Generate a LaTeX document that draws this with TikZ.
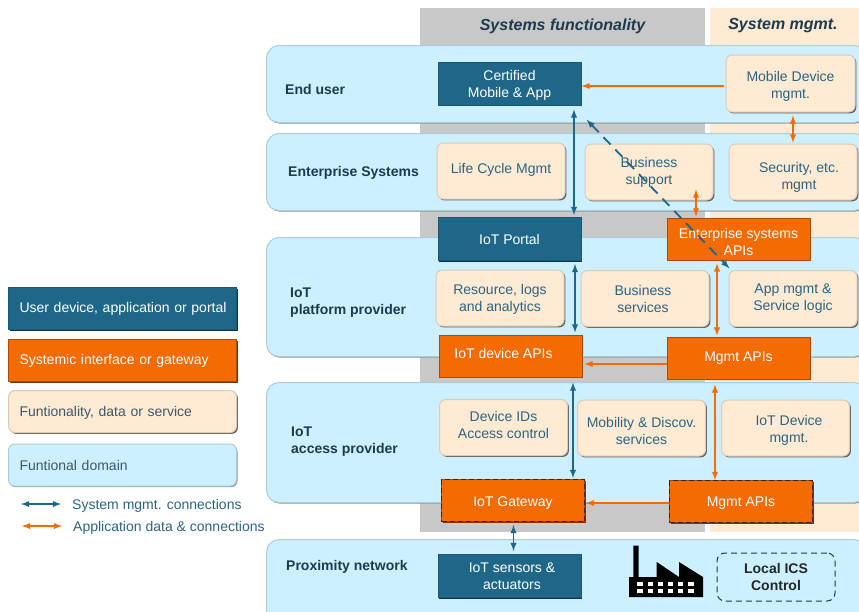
\documentclass[tikz,border=0pt]{standalone}
\usepackage{fontspec}
\setmainfont{Liberation Sans}
\usetikzlibrary{shadows}
\definecolor{domainblue}{HTML}{CCF0FF}
\definecolor{peach}{HTML}{FFEAD4}
\definecolor{darkblue}{HTML}{1F6788}
\definecolor{sysorange}{HTML}{F46A03}
\definecolor{bandgray}{HTML}{C8C8C8}
\definecolor{inktext}{HTML}{2B6480}
\definecolor{headtext}{HTML}{1D3A4E}
\newcommand{\nudgedown}[1]{\rule{0pt}{\dimexpr10pt+#1pt+#1pt\relax}}
\newcommand{\nudgeup}[1]{\rule[-\dimexpr3pt+#1pt+#1pt\relax]{0pt}{0pt}}
\begin{document}
\begin{tikzpicture}[x=1pt,y=-1pt,>=latex,
      font=\fontsize{14}{17}\selectfont,
      domainbox/.style={rectangle,draw=black!15!domainblue,line width=1pt,fill=domainblue,
        rounded corners=2.4ex,inner sep=0pt,anchor=north west,minimum width=600pt,
        general shadow={fill=black!35!domainblue!80!gray,shadow xshift=1pt,shadow yshift=-1.2pt}},
      domlabel/.style={font=\fontsize{14}{17}\selectfont\bfseries,text=headtext,
        align=left,anchor=west,inner sep=0pt},
      headlabel/.style={font=\fontsize{16}{18}\selectfont\bfseries\itshape,text=headtext,inner sep=0pt},
      userbox/.style={rectangle,draw=darkblue!85!black,line width=1pt,fill=darkblue,text=white,
        align=center,inner sep=0pt,minimum width=143pt,minimum height=43pt,
        general shadow={fill=darkblue!50!black,shadow xshift=1.2pt,shadow yshift=-1.2pt}},
      apibox/.style={rectangle,draw=sysorange!70!black,line width=1pt,fill=sysorange,text=white,
        align=center,inner sep=0pt,minimum width=143pt,minimum height=42pt,
        general shadow={fill=sysorange!50!black,shadow xshift=1.2pt,shadow yshift=-1.2pt}},
      funcbox/.style={rectangle,draw=peach!70!gray,line width=1pt,fill=peach,text=inktext,
        rounded corners=1.2ex,align=center,inner sep=0pt,minimum width=128pt,minimum height=56pt,
        general shadow={fill=peach!40!black,shadow xshift=1.4pt,shadow yshift=-1.4pt,rounded corners=1.2ex}},
      keybox/.style={anchor=west,align=left,inner ysep=0pt,inner xsep=9pt,text width=210pt,
        minimum height=42pt,execute at begin node={\hspace*{2pt}}},
      dashbox/.style={postaction={draw=black!70!sysorange,dash pattern=on 5pt off 3pt,line width=1.3pt}},
      sysline/.style={<->,draw=darkblue,line width=1.8pt,shorten <=1pt,shorten >=1pt},
      dataline/.style={<->,draw=sysorange,line width=1.8pt,shorten <=1pt,shorten >=1pt},
      keytext/.style={anchor=west,text=inktext,inner sep=0pt}]
      \useasboundingbox (0,0) rectangle (859,611);
      \clip (0,0) rectangle (859,611);
      % Columns behind the domains
      \fill[bandgray] (420,8) rectangle (705,532);
      \fill[peach] (710,8) rectangle (859,532);
      \node[headlabel] (sysfunc) at (562.5,26) {Systems functionality};
      \node[headlabel] (sysmgmt) at (783,26) {System mgmt.};
      % Domains
      \node[domainbox,minimum height=77pt] (enduser) at (266,45) {};
      \node[domainbox,minimum height=77pt] (enterprise) at (266,133) {};
      \node[domainbox,minimum height=119pt] (platform) at (266,237) {};
      \node[domainbox,minimum height=120pt] (access) at (266,382) {};
      \node[domainbox,minimum height=90pt] (proximity) at (266,539) {};
      \node[domlabel] (enduserlabel) at (285,89) {End user};
      \node[domlabel] (enterpriselabel) at (288,173) {Enterprise Systems};
      \node[domlabel] (platformlabel) at (290,302.5) {IoT\\platform provider};
      \node[domlabel] (accesslabel) at (291,441.5) {IoT\\access provider};
      \node[domlabel] (proximitylabel) at (286,567) {Proximity network};
      % End user and enterprise boxes
      \node[userbox] (certified) at (509.5,83.5) {\nudgedown{2}Certified\\Mobile \& App};
      \node[funcbox,minimum width=129pt,minimum height=57pt] (mobiledev) at (790.5,83.5) {\nudgedown{3}Mobile Device\\mgmt.};
      \node[funcbox] (lifecycle) at (501,171) {\nudgeup{1}Life Cycle Mgmt};
      \node[funcbox] (bizsupport) at (649,172) {Business\\support};
      \node[funcbox] (security) at (793,172) {\nudgedown{5}\hspace*{12pt}Security, etc.\\\hspace*{12pt}mgmt};
      % Platform boxes
      \node[userbox] (portal) at (509.5,239) {IoT Portal};
      \node[apibox] (entapis) at (738.5,239) {\nudgedown{3}Enterprise systems\\APIs};
      \node[funcbox] (resource) at (500,298) {\nudgedown{1}Resource, logs\\and analytics};
      \node[funcbox] (bizservices) at (645,298.5) {Business\hspace*{4pt}\\services\hspace*{4pt}};
      \node[funcbox] (appmgmt) at (793,298.5) {App mgmt \&\\Service logic};
      \node[apibox] (deviceapis) at (510.5,356) {IoT device APIs\hspace*{14pt}\nudgeup{1}};
      \node[apibox] (mgmtapis) at (738.5,358) {Mgmt APIs};
      % Access boxes
      \node[funcbox] (deviceids) at (503.5,427.5) {Device IDs\\Access control\nudgeup{1}};
      \node[funcbox] (mobility) at (641.5,428) {\nudgedown{3}Mobility \& Discov.\\services};
      \node[funcbox] (devicemgmt) at (785.5,428) {\nudgedown{2}\hspace*{7pt}IoT Device\\\hspace*{7pt}mgmt.};
      \node[apibox,dashbox] (gateway) at (513,500.5) {\nudgedown{2}IoT Gateway};
      \node[apibox,dashbox] (gatewayapis) at (741,501.5) {\nudgedown{1}Mgmt APIs};
      % Proximity network
      \node[userbox] (sensors) at (509.5,576) {\hspace*{5pt}IoT sensors \&\\\hspace*{5pt}actuators};
      \node[rectangle,draw=headtext,dash pattern=on 6pt off 4pt,line width=1pt,rounded corners=1.5ex,inner sep=0pt,
        minimum width=118pt,minimum height=48pt,align=center,text=black!85,
        font=\fontsize{14}{17}\selectfont\bfseries] (localics) at (776,577) {Local ICS\\Control};
      % Factory
      \fill[black] (629,597) -- (629,577) -- (633.3,577) -- (633.3,545.7) -- (638.7,545.7) -- (638.7,577)
        -- (656.7,577) -- (656.7,562) -- (679,577) -- (679,562) -- (703,577) -- (703,597) -- cycle;
      \foreach \col in {0,...,5} \foreach \row in {0,1}
        \fill[white] (637.3+10.2*\col,582.3+7*\row) rectangle +(5.3,3.7);
      % Legend
      \node[userbox,keybox] (keyuser) at (8,308.5) {User device, application or portal};
      \node[apibox,keybox] (keyapi) at (8,360.5) {Systemic interface or gateway};
      \node[funcbox,keybox,text=headtext!85] (keyfunc) at (8,411.5) {\nudgedown{1}Funtionality, data or service};
      \node[domainbox,keybox,rounded corners=1.2ex,text=headtext!85,minimum width=0pt] (keydomain) at (8,465) {Funtional domain};
      \coordinate (keysysa) at (20,504);
      \coordinate (keysysb) at (62,504);
      \coordinate (keydataa) at (21,526);
      \coordinate (keydatab) at (63,526);
      \draw[sysline] (keysysa) -- (keysysb);
      \draw[dataline] (keydataa) -- (keydatab);
      \node[keytext] (keysystext) at (72,506) {System mgmt. connections};
      \node[keytext] (keydatatext) at (73,527.5) {Application data \& connections};
      % Connectors
      \draw[sysline,shorten <=4pt,shorten >=2pt] ([xshift=64.5pt]certified.south) -- ([xshift=64.5pt]portal.north);
      \draw[sysline,shorten <=3pt,shorten >=2pt] ([xshift=65.5pt]portal.south) -- ([xshift=64.5pt]deviceapis.north);
      \draw[sysline,shorten <=5pt,shorten >=1pt] ([xshift=62.5pt]deviceapis.south) -- ([xshift=60pt]gateway.north);
      \draw[sysline,shorten <=3pt,shorten >=3pt] ([xshift=.5pt]gateway.south) -- ([xshift=4pt]sensors.north);
      \coordinate (dashstart) at (586,119);
      \coordinate (dashend) at (730,269);
      \draw[sysline,dash pattern=on 10pt off 7pt] (dashstart) -- (dashend);
      \draw[dataline,->,shorten <=2pt,shorten >=0pt] ([yshift=-2.5pt]mobiledev.west) -- ([yshift=-2.5pt]certified.east);
      \draw[dataline,shorten <=3pt,shorten >=1pt] ([xshift=2.5pt]mobiledev.south) -- ([xshift=0pt]security.north);
      \draw[dataline,shorten <=-11pt,shorten >=1pt] ([xshift=47pt]bizsupport.south) -- ([xshift=-42.5pt]entapis.north);
      \draw[dataline,shorten <=3pt,shorten >=1pt] ([xshift=-21.5pt]entapis.south) -- ([xshift=-21.5pt]mgmtapis.north);
      \draw[dataline,->,shorten <=0pt,shorten >=2pt] ([yshift=-6pt]mgmtapis.west) -- ([yshift=-8pt]deviceapis.east);
      \draw[dataline,shorten <=5pt,shorten >=0pt] ([xshift=-23.5pt]mgmtapis.south) -- ([xshift=-26pt]gatewayapis.north);
      \draw[dataline,->,shorten <=0pt,shorten >=1pt] ([yshift=-1.5pt]gatewayapis.west) -- ([yshift=-2.5pt]gateway.east);
    \end{tikzpicture}
\end{document}
